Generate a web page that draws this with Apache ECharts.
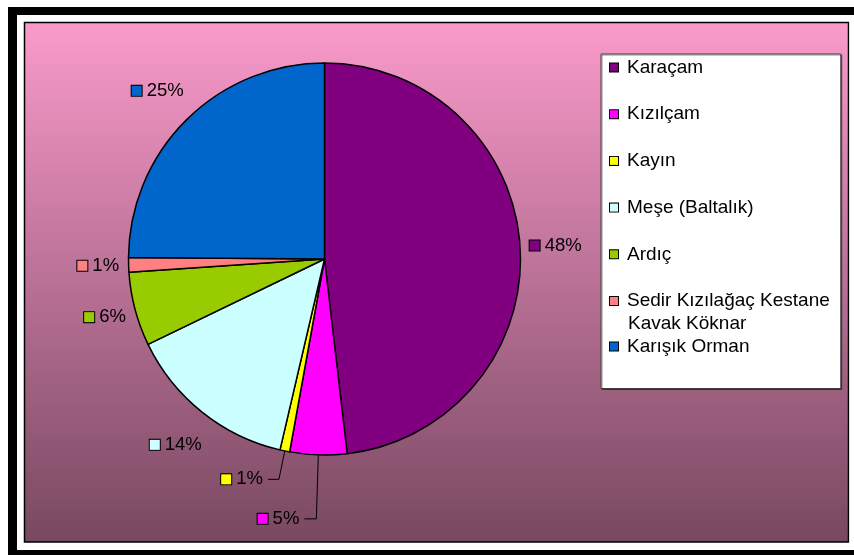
<!DOCTYPE html>
<html>
<head>
<meta charset="utf-8">
<title>Orman alanlarının türlere göre dağılımı</title>
<script src="https://cdn.jsdelivr.net/npm/echarts@6/dist/echarts.min.js"></script>
<style>
  html, body { margin: 0; padding: 0; background: #fff; overflow: hidden; }
  #chart { width: 854px; height: 555px; }
</style>
</head>
<body>
<div id="chart"></div>
<script>
// ağaç türleri
const names = ['Karaçam', 'Kızılçam', 'Kayın', 'Meşe (Baltalık)', 'Ardıç', 'Sedir Kızılağaç Kestane\nKavak Köknar', 'Karışık Orman'];
// alan payları (%)
const shares = [48.2, 4.7, 0.8, 14.2, 6.1, 1.2, 24.9];
// dilim renkleri
const colors = ['#800080', '#ff00ff', '#ffff00', '#ccffff', '#99cc00', '#ff8080', '#0066cc'];

const FONT = 'Liberation Sans';
// pasta merkezi ve yarıçapı
const CX = 324.5, CY = 259, R = 196;
// kılavuz çizgili etiketler: [length, length2]
const leaderLines = {1: [64, 12], 2: [29, 11]};

const total = shares.reduce((a, b) => a + b, 0);

// dilimin orta açısı (saat 12'den saat yönünde)
function midAngle(i) {
  let before = 0;
  for (let k = 0; k < i; k++) before += shares[k];
  return (before + shares[i] / 2) / total * Math.PI * 2;
}

const labelRich = {t: {fontSize: 18.5, fontFamily: FONT, color: '#000', padding: [0, 0, 0, 5]}};
const legendRich = {
  t: {fontSize: 19, fontFamily: FONT, color: '#000', lineHeight: 23, padding: [0, 0, 0, 9]},
  sp: {width: 9, lineHeight: 23}
};
colors.forEach(function (c, i) {
  labelRich['c' + i] = {width: 10, height: 10, backgroundColor: c, borderColor: '#000', borderWidth: 1};
  legendRich['c' + i] = {width: 8, height: 8, lineHeight: 23, backgroundColor: c, borderColor: '#000', borderWidth: 1};
});

function legendText(name) {
  const i = names.indexOf(name);
  return name.split('\n').map(function (line, k) {
    return (k === 0 ? '{c' + i + '|}' : '{sp|}') + '{t|' + line + '}';
  }).join('\n');
}

const data = names.map(function (n, i) {
  const item = {name: n, value: shares[i], itemStyle: {color: colors[i]}};
  if (leaderLines[i]) {
    item.labelLine = {show: true, length: leaderLines[i][0], length2: leaderLines[i][1]};
  }
  return item;
});

const legendBase = {
  orient: 'vertical',
  left: 601,
  itemWidth: 0,
  itemHeight: 0,
  itemGap: 23.7,
  icon: 'rect',
  itemStyle: {opacity: 0},
  selectedMode: false,
  formatter: legendText,
  textStyle: {fontSize: 19, lineHeight: 23, fontFamily: FONT, color: '#000', rich: legendRich}
};

const myChart = echarts.init(document.getElementById('chart'));
myChart.setOption({
  animation: false,
  backgroundColor: '#fff',
  graphic: [
    // dış siyah çerçeve (sağ kenarı resmin dışında)
    {type: 'rect', silent: true, shape: {x: 8, y: 7, width: 846, height: 8}, style: {fill: '#000'}},
    {type: 'rect', silent: true, shape: {x: 8, y: 7, width: 9, height: 548}, style: {fill: '#000'}},
    {type: 'rect', silent: true, shape: {x: 8, y: 550, width: 846, height: 5}, style: {fill: '#000'}},
    // çerçeve ile grafik alanı arasındaki beyaz boşluk (sağ)
    {type: 'rect', silent: true, z: 100, shape: {x: 849.5, y: 15, width: 5, height: 535}, style: {fill: '#fff'}},
    {
      type: 'rect', silent: true,
      shape: {x: 24.5, y: 22.5, width: 824, height: 519.5},
      style: {
        fill: {
          type: 'linear', x: 0, y: 0, x2: 0, y2: 1,
          colorStops: [{offset: 0, color: '#fa9acb'}, {offset: 1, color: '#784860'}]
        },
        stroke: '#000',
        lineWidth: 1.5
      }
    }
  ],
  legend: [
    Object.assign({}, legendBase, {
      data: names.slice(0, 6),
      top: 54,
      padding: [2, 11, 53, 3],
      backgroundColor: '#fff',
      borderColor: '#404040',
      borderWidth: 1,
      shadowColor: 'rgba(0,0,0,0.45)',
      shadowOffsetX: 1,
      shadowOffsetY: 1
    }),
    Object.assign({}, legendBase, {
      data: names.slice(6),
      top: 335,
      padding: [0, 0, 0, 3]
    })
  ],
  series: [{
    type: 'pie',
    center: [CX, CY],
    radius: R,
    startAngle: 90,
    clockwise: true,
    avoidLabelOverlap: false,
    emphasis: {disabled: true},
    itemStyle: {borderColor: '#000', borderWidth: 1.5},
    label: {
      position: 'outside',
      formatter: function (p) {
        return '{c' + p.dataIndex + '|}{t|' + Math.round(p.value / total * 100) + '%}';
      },
      rich: labelRich
    },
    labelLine: {show: false, length: 10, length2: 5, lineStyle: {color: '#000', width: 1}},
    labelLayout: function (params) {
      const i = params.dataIndex;
      if (leaderLines[i]) return {};
      const a = midAngle(i);
      const ux = Math.sin(a), uy = -Math.cos(a);
      // etiket merkezleri için biraz dikey basık bir halka
      const ring = 1 / Math.sqrt(Math.pow(ux / 205, 2) + Math.pow(uy / 216, 2));
      const d = ring + params.labelRect.width / 2;
      return {x: CX + ux * d, y: CY + uy * d, align: 'center', verticalAlign: 'middle'};
    },
    data: data
  }]
});
</script>
</body>
</html>
